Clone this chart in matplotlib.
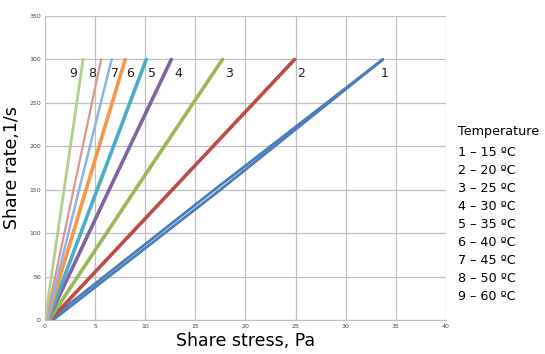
import matplotlib.pyplot as plt

# share rate (1/s) points and the matching share stress (Pa) for each curve
rate = [0, 150, 300]
stress = {
    '1': [0.4, 16.9, 33.7],
    '1b': [0.8, 17.5, 33.7],
    '2': [0.5, 12.7, 24.9],
    '3': [0.4, 9.0, 17.7],
    '4': [0.3, 6.4, 12.6],
    '5': [0.3, 5.2, 10.1],
    '6': [0.2, 4.1, 8.0],
    '7': [0.2, 3.4, 6.65],
    '8': [0.1, 2.85, 5.6],
    '9': [0.0, 1.9, 3.8],
}
colors = {
    '1': '#4A7EBB', '1b': '#4A7EBB', '2': '#BE4B48', '3': '#98B954',
    '4': '#8064A2', '5': '#4BACC6', '6': '#F79646', '7': '#8EB4E3',
    '8': '#D99694', '9': '#B3CF8E',
}
widths = {'1': 2.0, '1b': 2.0, '7': 1.8, '8': 1.6, '9': 2.0}

label_names = ['9', '8', '7', '6', '5', '4', '3', '2', '1']
label_x = [2.8, 4.7, 7.0, 8.5, 10.7, 13.3, 18.4, 25.5, 33.9]
label_y = 284

legend_title = 'Temperature'
temps = [15, 20, 25, 30, 35, 40, 45, 50, 60]

fig = plt.figure(figsize=(5.45, 3.54), dpi=100)
ax = fig.add_axes([45 / 545, 1 - 320 / 354, 401 / 545, 304 / 354])

for k, xs in stress.items():
    ax.plot(xs, rate, color=colors[k], lw=widths.get(k, 2.6), solid_capstyle='round')

for name, x in zip(label_names, label_x):
    ax.text(x, label_y, name, fontsize=9, ha='center', va='center', color='#222222')

ax.set_xlim(0, 40)
ax.set_ylim(0, 350)
ax.set_xticks(range(0, 41, 5))
ax.set_yticks(range(0, 351, 50))
ax.grid(True, color='#BFBFBF', lw=0.9)
ax.set_axisbelow(True)
ax.tick_params(length=0, labelsize=4.5, labelcolor='#444444', pad=3)
for s in ['top', 'right']:
    ax.spines[s].set_visible(False)
for s in ['left', 'bottom']:
    ax.spines[s].set_color('#BFBFBF')

ax.set_xlabel('Share stress, Pa', fontsize=12.5, labelpad=2)
ax.set_ylabel('Share rate,1/s', fontsize=12.5, labelpad=6)

fig.text(458 / 545, 1 - 131 / 354, legend_title, fontsize=9.2, va='center')
for i, t in enumerate(temps):
    fig.text(458 / 545, 1 - (152 + i * 18.1) / 354, '%d \u2013 %d \u00baC' % (i + 1, t),
             fontsize=9.2, va='center')

fig.savefig('out.png', dpi=100)
